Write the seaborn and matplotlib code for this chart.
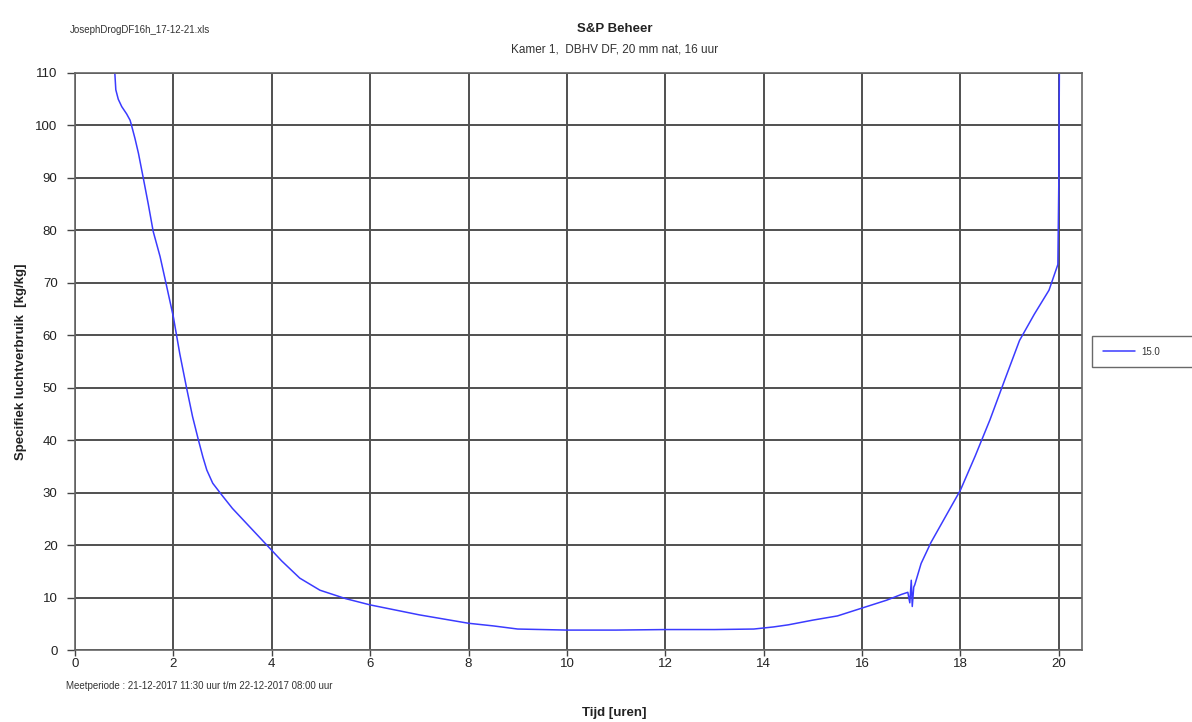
import matplotlib
matplotlib.use("Agg")
import matplotlib.pyplot as plt
import seaborn as sns
import pandas as pd

# Drying run: time in hours vs specific air consumption (kg/kg)
tijd = [0.81, 0.83, 0.88, 0.95, 1.05, 1.12, 1.15, 1.22, 1.29, 1.39, 1.49, 1.59,
        1.73, 1.86, 2.00, 2.13, 2.27, 2.39, 2.51, 2.60, 2.68, 2.80, 2.98, 3.20,
        3.50, 3.90, 4.20, 4.57, 4.98, 5.50, 6.00, 7.00, 8.00, 8.50, 9.00, 10.0,
        11.0, 12.0, 13.0, 13.8, 14.2, 14.5, 15.0, 15.5, 16.0, 16.5, 16.8, 16.93,
        16.97, 17.0, 17.02, 17.05, 17.07, 17.2, 17.4, 17.7, 18.0, 18.3, 18.6,
        18.9, 19.2, 19.5, 19.8, 19.98, 20.0, 20.01]
verbruik = [110, 106.8, 105.0, 103.6, 102.2, 101.0, 100.0, 97.5, 94.7, 89.9,
            85.0, 79.8, 75.0, 69.5, 63.5, 56.5, 49.9, 44.5, 40.0, 36.8, 34.3,
            31.8, 29.6, 27.0, 24.0, 20.0, 17.0, 13.7, 11.4, 9.8, 8.6, 6.7, 5.1,
            4.6, 4.0, 3.8, 3.8, 3.9, 3.9, 4.0, 4.4, 4.8, 5.7, 6.5, 8.0, 9.5,
            10.6, 11.0, 9.0, 13.3, 8.3, 12.0, 12.4, 16.5, 20.5, 25.5, 30.5,
            37.0, 43.9, 51.5, 59.0, 64.0, 68.6, 73.5, 90.0, 110.0]
serie = "15.0"

x_ticks = list(range(0, 21, 2))
y_ticks = list(range(0, 111, 10))

df = pd.DataFrame({"Tijd": tijd, "Verbruik": verbruik, "Serie": serie})

sns.set_theme(style="white")
plt.rcParams["font.family"] = ["Liberation Sans", "DejaVu Sans"]

fig = plt.figure(figsize=(11.92, 7.22), dpi=100)
ax = fig.add_axes([0.0629, 0.0997, 0.8448, 0.7992])

sns.lineplot(data=df, x="Tijd", y="Verbruik", hue="Serie", palette=["#3b3bff"],
             sort=False, linewidth=1.1, ax=ax, estimator=None)

ax.set_xlim(0, 20.47)
ax.set_ylim(0, 110)
ax.set_xticks(x_ticks)
ax.set_yticks(y_ticks)
ax.tick_params(axis="x", labelsize=9.5, colors="#444444", length=4, width=1,
               direction="out", bottom=True, pad=1.5)
ax.tick_params(axis="y", labelsize=9.5, colors="#444444", length=5.5, width=1,
               direction="out", left=True, pad=7)
for lbl in ax.get_xticklabels() + ax.get_yticklabels():
    lbl.set_color("#222222")

ax.grid(True, color="#505050", linewidth=1.4)
ax.set_axisbelow(True)
for s in ax.spines.values():
    s.set_color("#666666")
    s.set_linewidth(1.2)

ax.set_xlabel("")
ax.set_ylabel("Specifiek luchtverbruik  [kg/kg]", fontsize=9.5, fontweight="bold",
              color="#222222", labelpad=6)

fig.text(0.5155, 0.9605, "S&P Beheer", ha="center", va="center", fontsize=9.5,
         fontweight="bold", color="#222222")
fig.text(0.5155, 0.932, "Kamer 1,  DBHV DF, 20 mm nat, 16 uur", ha="center",
         va="center", fontsize=8.5, color="#333333")
fig.text(0.059, 0.959, "JosephDrogDF16h_17-12-21.xls", ha="left", va="center",
         fontsize=7, color="#333333")
fig.text(0.055, 0.0499, "Meetperiode : 21-12-2017 11:30 uur t/m 22-12-2017 08:00 uur",
         ha="left", va="center", fontsize=7, color="#333333")
fig.text(0.5155, 0.0125, "Tijd [uren]", ha="center", va="center", fontsize=9.5,
         fontweight="bold", color="#222222")

leg = ax.legend(loc="upper left", bbox_to_anchor=(0.9161, 0.4875, 0.12, 0.0471),
                bbox_transform=fig.transFigure, mode="expand", frameon=True,
                fancybox=False, fontsize=7, handlelength=3.3, handletextpad=0.7,
                borderpad=1.1, borderaxespad=0, title=None)
leg.get_frame().set_edgecolor("#444444")
leg.get_frame().set_linewidth(1.0)
for t in leg.get_texts():
    t.set_color("#333333")

fig.savefig("out.png", dpi=100)
